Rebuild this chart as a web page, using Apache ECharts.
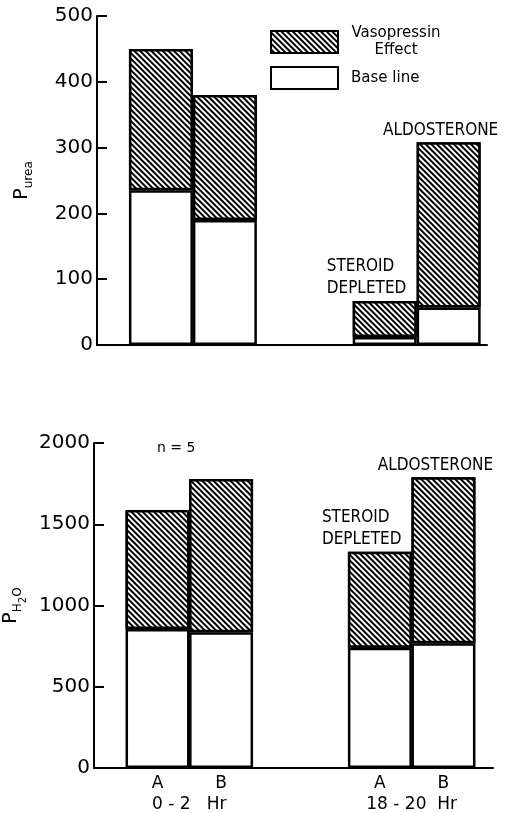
<!DOCTYPE html>
<html>
<head>
<meta charset="utf-8">
<script src="https://cdn.jsdelivr.net/npm/echarts@6/dist/echarts.min.js"></script>
<style>
  html, body { margin: 0; padding: 0; background: #fff; }
  #main { width: 507px; height: 813px; }
</style>
</head>
<body>
<div id="main"></div>
<script>
// bar positions along the x axis (one unit = one bar width)
var xPos = [1, 2, 4.5, 5.5];
var xLabels = ['A', 'B', 'A', 'B'];
var groupPos = [1.5, 5];
var groupLabels = ['0 - 2   Hr', '18 - 20  Hr'];

// P urea
var ureaBase = [235, 190, 12, 57];
var ureaEffect = [215, 190, 55, 251];
// P H2O
var waterBase = [855, 835, 740, 767];
var waterEffect = [733, 943, 591, 1022];

var notes = ['', '', 'STEROID\nDEPLETED', 'ALDOSTERONE'];

var ureaTicks = { min: 0, max: 500, interval: 100 };
var waterTicks = { min: 0, max: 2000, interval: 500 };

var font = 'DejaVu Sans';
var hatch = {
  symbol: 'rect',
  symbolSize: 1,
  color: '#000',
  backgroundColor: '#fff',
  dashArrayX: [1, 0],
  dashArrayY: [2, 2],
  rotation: Math.PI / 4
};

// value first so the stack runs on y
function pairs(vals) {
  return vals.map(function (v, i) { return [v, xPos[i]]; });
}

function effectData(vals) {
  return vals.map(function (v, i) {
    var item = { value: [v, xPos[i]] };
    if (notes[i]) {
      var twoLine = notes[i].indexOf('\n') >= 0;
      item.label = {
        show: true, position: 'top', formatter: notes[i],
        align: twoLine ? 'left' : 'center',
        offset: twoLine ? [-58, 4] : [-8, 4],
        fontFamily: 'DejaVu Sans Condensed', fontSize: 17, color: '#000', lineHeight: 22
      };
    }
    return item;
  });
}

function near(v, list) {
  for (var i = 0; i < list.length; i++) {
    if (Math.abs(v - list[i]) < 1e-6) return i;
  }
  return -1;
}

function yAxis(idx, ticks, nameRich) {
  return {
    type: 'value', gridIndex: idx,
    min: ticks.min, max: ticks.max, interval: ticks.interval,
    name: nameRich, nameLocation: 'middle', nameRotate: 90, nameGap: 62,
    nameTextStyle: {
      rich: {
        p: { fontFamily: font, fontSize: 19, color: '#000', lineHeight: 26, verticalAlign: 'middle' },
        s: { fontFamily: font, fontSize: 12, color: '#000', lineHeight: 12, verticalAlign: 'bottom' },
        t: { fontFamily: font, fontSize: 10, color: '#000', lineHeight: 8, verticalAlign: 'bottom', padding: [0, 0, -4, 0] }
      }
    },
    axisLine: { show: true, lineStyle: { color: '#000', width: 2 } },
    axisTick: { show: true, inside: true, length: 10, lineStyle: { color: '#000', width: 2 } },
    axisLabel: {
      color: '#000', fontFamily: font, fontSize: 20, margin: 4,
      formatter: function (v) { return String(v); }
    },
    splitLine: { show: false }
  };
}

function barSeries(name, stack, gi, data, decal) {
  var style = { color: '#fff', borderColor: '#000', borderWidth: 2.5 };
  if (decal) style.decal = decal;
  return {
    name: name, type: 'bar', xAxisIndex: gi, yAxisIndex: gi, stack: stack, barWidth: 64,
    encode: { x: 1, y: 0 },
    itemStyle: style,
    data: data
  };
}

var chart = echarts.init(document.getElementById('main'));
chart.setOption({
  backgroundColor: '#fff',
  animation: false,
  legend: {
    data: ['Vasopressin Effect', 'Base line'],
    orient: 'vertical',
    left: 265, top: 21,
    itemWidth: 67, itemHeight: 22, itemGap: 8,
    icon: 'rect',
    formatter: function (n) {
      return n === 'Vasopressin Effect' ? '{c|Vasopressin}\n{c|Effect}' : '{l|' + n + '}';
    },
    textStyle: {
      color: '#000', padding: [0, 0, 0, 8],
      rich: {
        c: { fontFamily: font, fontSize: 15, color: '#000', lineHeight: 17, width: 90, align: 'center' },
        l: { fontFamily: font, fontSize: 15, color: '#000', lineHeight: 17 }
      }
    }
  },
  grid: [
    { left: 97, top: 16, right: 20, bottom: 468, outerBoundsMode: 'none' },
    { left: 94, top: 443, right: 14, bottom: 45, outerBoundsMode: 'none' }
  ],
  xAxis: [
    {
      type: 'value', gridIndex: 0, min: 0, max: 6.1,
      axisLine: { show: true, lineStyle: { color: '#000', width: 2 } },
      axisTick: { show: false }, axisLabel: { show: false }, splitLine: { show: false }
    },
    {
      type: 'value', gridIndex: 1, min: 0, max: 6.28, interval: 0.5,
      axisLine: { show: true, lineStyle: { color: '#000', width: 2 } },
      axisTick: { show: false }, splitLine: { show: false },
      axisLabel: {
        show: true, margin: 6, showMaxLabel: false,
        formatter: function (v) {
          var i = near(v, xPos);
          if (i >= 0) return '{a|' + xLabels[i] + '}';
          var g = near(v, groupPos);
          if (g >= 0) return '{g|' + groupLabels[g] + '}';
          return '';
        },
        rich: {
          a: { fontFamily: font, fontSize: 17, color: '#000', lineHeight: 20 },
          g: { fontFamily: font, fontSize: 17, color: '#000', lineHeight: 20, padding: [42, 0, 0, 0] }
        }
      }
    }
  ],
  yAxis: [
    yAxis(0, ureaTicks, '{p|P}{s|urea}'),
    yAxis(1, waterTicks, '{p|P}{s|H}{t|2}{s|O}')
  ],
  graphic: [
    { type: 'text', left: 157, top: 441, style: { text: 'n = 5', fontFamily: font, fontSize: 14, fill: '#000' } }
  ],
  series: [
    barSeries('Base line', 'u', 0, pairs(ureaBase)),
    barSeries('Vasopressin Effect', 'u', 0, effectData(ureaEffect), hatch),
    barSeries('Base line', 'w', 1, pairs(waterBase)),
    barSeries('Vasopressin Effect', 'w', 1, effectData(waterEffect), hatch)
  ]
});
</script>
</body>
</html>
